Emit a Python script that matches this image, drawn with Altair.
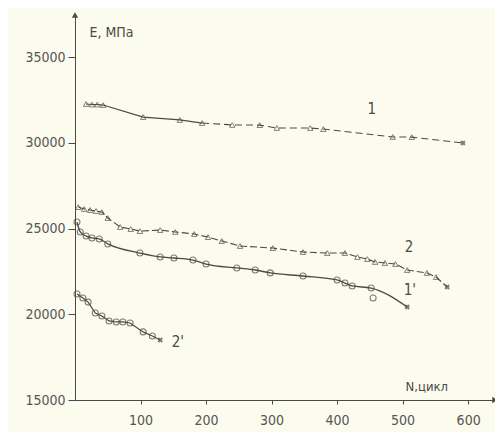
import altair as alt
import pandas as pd

# ---- data ----
# curve 1 (triangles)
N1 = [17, 26, 34, 43, 104, 160, 194, 240, 282, 308, 359, 379, 485, 514]
E1 = [32260, 32230, 32230, 32200, 31500, 31330, 31150, 31040, 31030, 30860, 30860, 30800, 30340, 30330]
N1_END, E1_END = 592, 29990
# curve 2 (triangles)
N2 = [5, 14, 23, 32, 41, 50, 69, 85, 99, 130, 153, 182, 203, 224, 252, 302, 348, 385, 412, 431, 446, 458, 473, 489, 507, 537, 551]
E2 = [26250, 26140, 26080, 26020, 25960, 25610, 25090, 24970, 24850, 24910, 24800, 24680, 24500, 24270, 23980, 23860, 23630, 23570, 23570, 23340, 23220, 23050, 22990, 22930, 22580, 22410, 22170]
N2_END, E2_END = 568, 21590
# curve 1' (circles)
N1P = [3, 8, 17, 26, 37, 50, 99, 130, 151, 180, 200, 247, 275, 298, 348, 400, 412, 423, 452]
E1P = [25380, 24800, 24560, 24450, 24390, 24100, 23570, 23340, 23280, 23160, 22930, 22700, 22580, 22410, 22230, 22000, 21820, 21650, 21530]
N1P_OUT, E1P_OUT = 455, 20950
N1P_END, E1P_END = 507, 20420
# curve 2' (circles)
N2P = [3, 12, 20, 31, 41, 52, 63, 73, 84, 104, 118]
E2P = [21180, 20950, 20710, 20070, 19900, 19610, 19550, 19550, 19490, 18970, 18730]
N2P_END, E2P_END = 130, 18500

LABELS = ["1", "2", "1'", "2'"]
LABEL_N = [453, 510, 511, 157]
LABEL_E = [31950, 23900, 21400, 18380]

Y_TICKS = [15000, 20000, 25000, 30000, 35000]
X_TICKS = [100, 200, 300, 400, 500, 600]
X_MAX, Y_MIN, Y_MAX = 641, 15000, 37450

INK = "#4a4a44"
FONT = "DejaVu Sans Condensed, Liberation Sans Narrow, sans-serif"

xs = alt.Scale(domain=[0, X_MAX], nice=False, zero=False)
ys = alt.Scale(domain=[Y_MIN, Y_MAX], nice=False, zero=False)

def line_df(ns, es, end_n, end_e):
    return pd.DataFrame({"N": ns + [end_n], "E": es + [end_e]})

def pts_df(ns, es):
    return pd.DataFrame({"N": ns, "E": es})

X = lambda: alt.X("N:Q", scale=xs, axis=alt.Axis(
    values=X_TICKS, title="N,цикл", titleAngle=0, titleX=330, titleY=-20,
    titleAlign="left", titleFontWeight="normal", titleFontSize=13, titleColor=INK,
    titleFont=FONT, labelFont=FONT, labelFontSize=14, labelColor="#555",
    domainColor=INK, tickColor=INK, tickSize=4, grid=False, labelPadding=9))
Y = lambda: alt.Y("E:Q", scale=ys, axis=alt.Axis(
    values=Y_TICKS, format="d", title="E, МПа", titleAngle=0, titleX=14, titleY=17,
    titleAlign="left", titleBaseline="middle", titleFontWeight="normal", titleFontSize=14,
    titleColor=INK, titleFont=FONT, labelFont=FONT, labelFontSize=14, labelColor="#555",
    domainColor=INK, tickColor=INK, tickSize=7, grid=False, labelPadding=3))

layers = []
# curve 1: solid then dashed
l1 = line_df(N1, E1, N1_END, E1_END)
layers.append(alt.Chart(l1.iloc[:7]).mark_line(color=INK, strokeWidth=1.2).encode(x=X(), y=Y()))
layers.append(alt.Chart(l1.iloc[6:]).mark_line(color=INK, strokeWidth=1.1, strokeDash=[7, 4]).encode(x="N:Q", y="E:Q"))
layers.append(alt.Chart(pts_df(N1, E1)).mark_point(shape="triangle-up", size=30, color=INK, strokeWidth=1, filled=False).encode(x="N:Q", y="E:Q"))
# curve 2
layers.append(alt.Chart(line_df(N2, E2, N2_END, E2_END)).mark_line(color=INK, strokeWidth=1.1, strokeDash=[7, 3]).encode(x="N:Q", y="E:Q"))
layers.append(alt.Chart(pts_df(N2, E2)).mark_point(shape="triangle-up", size=30, color=INK, strokeWidth=1, filled=False).encode(x="N:Q", y="E:Q"))
# curve 1'
layers.append(alt.Chart(line_df(N1P, E1P, N1P_END, E1P_END)).mark_line(color=INK, strokeWidth=1.3, interpolate="monotone").encode(x="N:Q", y="E:Q"))
layers.append(alt.Chart(pts_df(N1P + [N1P_OUT], E1P + [E1P_OUT])).mark_point(shape="circle", size=36, color=INK, strokeWidth=1.1, filled=False).encode(x="N:Q", y="E:Q"))
# curve 2'
layers.append(alt.Chart(line_df(N2P, E2P, N2P_END, E2P_END)).mark_line(color=INK, strokeWidth=1.2).encode(x="N:Q", y="E:Q"))
layers.append(alt.Chart(pts_df(N2P, E2P)).mark_point(shape="circle", size=36, color=INK, strokeWidth=1.1, filled=False).encode(x="N:Q", y="E:Q"))
# end crosses
ends = pd.DataFrame({"N": [N1_END, N2_END, N1P_END, N2P_END], "E": [E1_END, E2_END, E1P_END, E2P_END]})
layers.append(alt.Chart(ends).mark_point(shape="cross", angle=45, size=30, color=INK, filled=True).encode(x="N:Q", y="E:Q"))
# curve labels
lab = pd.DataFrame({"t": LABELS, "N": LABEL_N, "E": LABEL_E})
layers.append(alt.Chart(lab).mark_text(font=FONT, fontSize=15, color=INK, align="center", baseline="middle").encode(x="N:Q", y="E:Q", text="t:N"))
# axis arrowheads
arr = pd.DataFrame({"N": [0, X_MAX], "E": [Y_MAX, Y_MIN], "s": ["triangle-up", "triangle-right"]})
layers.append(alt.Chart(arr).mark_point(size=40, color=INK, filled=True, opacity=1).encode(
    x="N:Q", y="E:Q", shape=alt.Shape("s:N", scale=None, legend=None)))

chart = alt.layer(*layers).properties(
    width=420, height=385, background="#fcfcee",
    padding={"left": 67, "top": 7, "right": 0, "bottom": 32},
    autosize=alt.AutoSizeParams(type="none"),
).configure_view(stroke=None)

chart.save("out.html", embed_options={"renderer": "svg", "actions": False})
